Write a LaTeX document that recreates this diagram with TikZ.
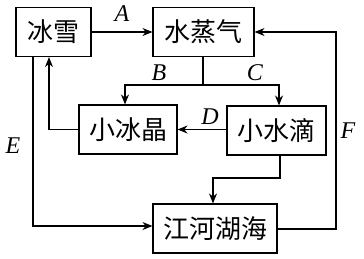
\documentclass[tikz,border=0pt]{standalone}
\usepackage{fontspec}
\newfontfamily\cjk{Noto Sans CJK SC}
\newfontfamily\lblfont{Liberation Serif}
\usetikzlibrary{arrows.meta}
\begin{document}
\begin{tikzpicture}[x=1pt,y=-1pt,
  box/.style={draw,line width=1.1pt,minimum height=49pt,inner sep=0pt,font=\cjk\fontsize{26}{26}\selectfont},
  conn/.style={line width=1.1pt,-{Stealth[length=10pt,width=8pt]}},
  lbl/.style={inner sep=0pt,font=\lblfont\fontsize{24}{24}\selectfont\itshape}]
\useasboundingbox (0,0) rectangle (364,258);
\node[box,minimum width=75pt] (bx) at (53.5,32) {冰雪};
\node[box,minimum width=101pt] (sz) at (203.5,32) {水蒸气};
\node[box,minimum width=98pt] (bj) at (128,129.5) {小冰晶};
\node[box,minimum width=99pt] (sd) at (276.5,130.5) {小水滴};
\node[box,minimum width=124pt] (jh) at (215,228.5) {江河湖海};
\coordinate (br) at (203,85);
\coordinate (bl) at (125,85);
\coordinate (cr) at (279,85);
\draw[conn] (bx) -- (sz);
\draw[line width=1.1pt] (sz.south -| br) -- (br);
\draw[conn] (br) -- (bl) -- (bl |- bj.north);
\draw[conn] (br) -- (cr) -- (cr |- sd.north);
\draw[conn] (sd.west |- bj) -- (bj);
\coordinate (bxu) at (49,129.5);
\draw[conn] (bj.west) -- (bxu) -- (bxu |- bx.south);
\coordinate (e1) at (33,226);
\draw[conn] (e1 |- bx.south) -- (e1) -- (e1 -| jh.west);
\coordinate (s1) at (280,178);
\coordinate (s2) at (213,178);
\draw[conn] (s1 |- sd.south) -- (s1) -- (s2) -- (s2 |- jh.north);
\coordinate (f1) at (336,229);
\coordinate (f2) at (336,32);
\draw[conn] (jh.east |- f1) -- (f1) -- (f2) -- (sz.east);
\node[lbl] (la) at (122,14) {A};
\node[lbl] (lb) at (159,73) {B};
\node[lbl] (lc) at (255,73) {C};
\node[lbl] (ld) at (210,117) {D};
\node[lbl] (le) at (13,146) {E};
\node[lbl] (lf) at (348,131) {F};
\end{tikzpicture}
\end{document}
